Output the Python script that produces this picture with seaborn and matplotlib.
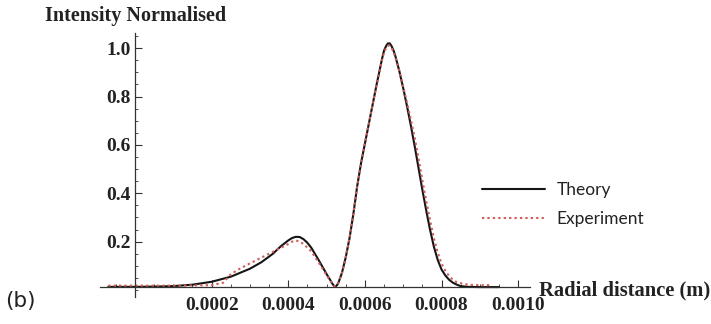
import numpy as np
import pandas as pd
import matplotlib
matplotlib.use("Agg")
import matplotlib.pyplot as plt
from matplotlib.ticker import MultipleLocator, FixedLocator, FixedFormatter
import seaborn as sns

# ---------------- data ----------------
theory_x = [-0.00007, 0.0, 0.00005, 0.0001, 0.00015, 0.0002, 0.00025, 0.0003,
            0.00033, 0.00036, 0.00038, 0.0004, 0.00041, 0.00042, 0.00043,
            0.00044, 0.00045, 0.00046, 0.00048, 0.0005, 0.00051, 0.000515,
            0.00052, 0.000525, 0.00053,
            0.00054, 0.00055, 0.00056, 0.00057, 0.00058, 0.00059, 0.0006,
            0.00061, 0.00062, 0.00063, 0.00064, 0.000645, 0.00065, 0.000655,
            0.00066, 0.000665, 0.00067, 0.000675,
            0.00068, 0.00069, 0.0007, 0.00071, 0.00072, 0.00073, 0.00074,
            0.00075, 0.00076, 0.00077, 0.00078, 0.00079, 0.0008, 0.00081,
            0.00082, 0.00083, 0.00084, 0.00085, 0.00087, 0.0009, 0.00095]
theory_y = [0.013, 0.013, 0.014, 0.016, 0.022, 0.034, 0.055, 0.088,
            0.115, 0.15, 0.18, 0.205, 0.215, 0.22, 0.219,
            0.21, 0.195, 0.175, 0.122, 0.066, 0.04, 0.026,
            0.016, 0.016, 0.026,
            0.07, 0.135, 0.215, 0.315, 0.43, 0.525, 0.605,
            0.685, 0.765, 0.845, 0.92, 0.958, 0.99, 1.008,
            1.02, 1.02, 1.008, 0.99,
            0.965, 0.905, 0.835, 0.76, 0.68, 0.595, 0.505,
            0.415, 0.33, 0.25, 0.18, 0.125, 0.085, 0.06,
            0.042, 0.03, 0.022, 0.016, 0.013, 0.012, 0.012]

exp_x = [-0.00007, 0.0, 0.0001, 0.0002, 0.00023, 0.00025, 0.00027, 0.0003,
         0.00035, 0.0004, 0.00041, 0.00042, 0.00043, 0.00044, 0.00046,
         0.00048, 0.0005, 0.00051, 0.000515, 0.00052, 0.000525, 0.00053,
         0.00054, 0.00055, 0.00056, 0.00057,
         0.00058, 0.00059, 0.0006, 0.00061, 0.00062, 0.00063, 0.00064,
         0.000645, 0.00065, 0.000655, 0.00066, 0.000665, 0.00067, 0.000675,
         0.00068, 0.00069, 0.0007, 0.00071,
         0.00072, 0.00073, 0.00074, 0.00075, 0.00076, 0.00077, 0.00078,
         0.00079, 0.0008, 0.00081, 0.00082, 0.00083, 0.00084, 0.00086,
         0.00088, 0.0009, 0.00093]
exp_y = [0.018, 0.018, 0.018, 0.02, 0.03, 0.065, 0.085, 0.11,
         0.15, 0.19, 0.2, 0.205, 0.2, 0.19, 0.16,
         0.112, 0.062, 0.038, 0.025, 0.016, 0.017, 0.027,
         0.07, 0.135, 0.215, 0.315,
         0.43, 0.525, 0.605, 0.685, 0.765, 0.845, 0.915,
         0.952, 0.983, 1.0, 1.01, 1.01, 1.0, 0.985,
         0.96, 0.905, 0.84, 0.775,
         0.705, 0.63, 0.545, 0.455, 0.37, 0.29, 0.215,
         0.155, 0.11, 0.08, 0.057, 0.042, 0.032, 0.024,
         0.021, 0.02, 0.02]

x_ticks = [0.0002, 0.0004, 0.0006, 0.0008, 0.0010]
x_tick_labels = ["0.0002", "0.0004", "0.0006", "0.0008", "0.0010"]
y_ticks = [0.2, 0.4, 0.6, 0.8, 1.0]
y_tick_labels = ["0.2", "0.4", "0.6", "0.8", "1.0"]

series_names = ["Theory", "Experiment"]
y_title = "Intensity Normalised"
x_title = "Radial distance (m)"
panel_label = "(b)"

# ---------------- figure ----------------
sns.set_style("white")
plt.rcParams["font.family"] = ["DejaVu Sans"]

W, H = 711, 324
fig = plt.figure(figsize=(W / 100, H / 100), dpi=100)
fig.patch.set_facecolor("white")
ax = fig.add_axes([100 / W, (H - 297) / H, 430 / W, 264 / H])

df_t = pd.DataFrame({"x": theory_x, "y": theory_y})
df_e = pd.DataFrame({"x": exp_x, "y": exp_y})

sns.lineplot(data=df_t, x="x", y="y", ax=ax, sort=False, estimator=None,
             color="#151515", linewidth=1.5, label=series_names[0])
sns.lineplot(data=df_e, x="x", y="y", ax=ax, sort=False, estimator=None,
             color="#cf5f58", linewidth=1.5, linestyle=(0, (1.1, 1.5)),
             label=series_names[1])

ax.set_xlim(-0.0000914, 0.001031)
ax.set_ylim(-0.029, 1.063)

for s in ["top", "right"]:
    ax.spines[s].set_visible(False)
ax.spines["left"].set_position(("data", 0.0))
ax.spines["bottom"].set_position(("data", 0.012))
for s in ["left", "bottom"]:
    ax.spines[s].set_color("#333333")
    ax.spines[s].set_linewidth(0.9)

serif = ["Liberation Serif", "DejaVu Serif"]
ax.xaxis.set_major_locator(FixedLocator(x_ticks))
ax.xaxis.set_major_formatter(FixedFormatter(x_tick_labels))
ax.yaxis.set_major_locator(FixedLocator(y_ticks))
ax.yaxis.set_major_formatter(FixedFormatter(y_tick_labels))
ax.xaxis.set_minor_locator(MultipleLocator(0.00005))
ax.yaxis.set_minor_locator(MultipleLocator(0.05))
ax.tick_params(axis="both", which="both", bottom=True, left=True,
               top=False, right=False)
ax.tick_params(axis="both", which="major", direction="in", length=5,
               width=0.8, color="#333333", labelsize=14, pad=3)
ax.tick_params(axis="both", which="minor", direction="in", length=2.5,
               width=0.6, color="#333333")
ax.tick_params(axis="x", which="major", pad=7)
for lab in ax.get_xticklabels() + ax.get_yticklabels():
    lab.set_family(serif)
    lab.set_fontweight("bold")
    lab.set_color("#222222")

ax.set_xlabel("")
ax.set_ylabel("")

fig.text(45 / W, 1 - 16 / H, y_title, family=serif, fontweight="bold",
         fontsize=14.5, color="#222222", ha="left", va="center")
fig.text(539 / W, 1 - 290 / H, x_title, family=serif, fontweight="bold",
         fontsize=14.8, color="#222222", ha="left", va="center")
fig.text(5 / W, 1 - 301 / H, panel_label, family=["DejaVu Sans"],
         fontsize=15.5, color="#222222", ha="left", va="center")

leg = ax.legend(loc="upper left", bbox_to_anchor=(482 / W, 1 - 182 / H),
                bbox_transform=fig.transFigure, frameon=False,
                handlelength=3.6, handletextpad=0.7, labelspacing=0.75,
                borderpad=0, borderaxespad=0,
                prop={"family": ["Lato", "DejaVu Sans"], "size": 12.5})
for t in leg.get_texts():
    t.set_color("#222222")

fig.savefig("out.png", dpi=100, facecolor="white")
